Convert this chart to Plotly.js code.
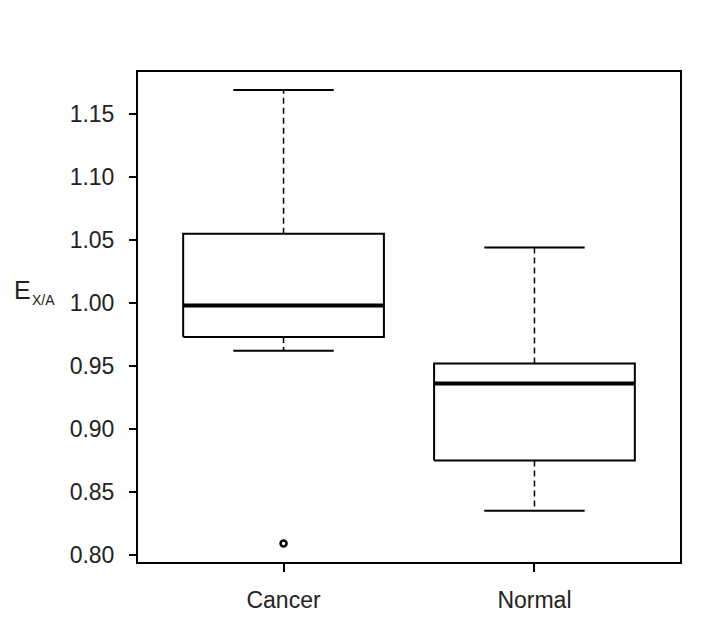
<!DOCTYPE html>
<html>
<head>
<meta charset="utf-8">
<script src="https://cdn.plot.ly/plotly-3.0.1.min.js"></script>
<style>html,body{margin:0;padding:0;background:#fff;}#chart{width:710px;height:624px;}</style>
</head>
<body>
<div id="chart"></div>
<script>
// Data
var categories = ['Cancer', 'Normal'];
var lowerWhisker = [0.962, 0.835];
var q1Values = [0.973, 0.875];
var medianValues = [0.998, 0.936];
var q3Values = [1.055, 0.952];
var upperWhisker = [1.169, 1.044];
var outlierCategory = ['Cancer'];
var outlierValues = [0.809];
var yTickVals = [0.80, 0.85, 0.90, 0.95, 1.00, 1.05, 1.10, 1.15];
var yTickText = ['0.80', '0.85', '0.90', '0.95', '1.00', '1.05', '1.10', '1.15'];

var boxHalf = 0.4, capHalf = 0.2;
var boxX = [], boxY = [], medX = [], medY = [], whiskX = [], whiskY = [], capX = [], capY = [];
categories.forEach(function (c, i) {
  var p = i + 1;
  boxX.push(p - boxHalf, p + boxHalf, p + boxHalf, p - boxHalf, p - boxHalf, null);
  boxY.push(q1Values[i], q1Values[i], q3Values[i], q3Values[i], q1Values[i], null);
  medX.push(p - boxHalf, p + boxHalf, null);
  medY.push(medianValues[i], medianValues[i], null);
  whiskX.push(p, p, null, p, p, null);
  whiskY.push(q3Values[i], upperWhisker[i], null, q1Values[i], lowerWhisker[i], null);
  capX.push(p - capHalf, p + capHalf, null, p - capHalf, p + capHalf, null);
  capY.push(upperWhisker[i], upperWhisker[i], null, lowerWhisker[i], lowerWhisker[i], null);
});
var outX = outlierCategory.map(function (c) { return categories.indexOf(c) + 1; });

var traces = [
  {x: whiskX, y: whiskY, mode: 'lines', line: {color: '#000', width: 1.5, dash: '6px,4px'}, hoverinfo: 'skip'},
  {x: capX, y: capY, mode: 'lines', line: {color: '#000', width: 2}, hoverinfo: 'skip'},
  {x: boxX, y: boxY, mode: 'lines', line: {color: '#000', width: 2}, hoverinfo: 'skip'},
  {x: medX, y: medY, mode: 'lines', line: {color: '#000', width: 4}, hoverinfo: 'skip'},
  {x: outX, y: outlierValues, mode: 'markers', marker: {symbol: 'circle-open', size: 6, color: '#000', line: {width: 2.5, color: '#000'}}, hoverinfo: 'skip'}
];

var font = {family: 'Liberation Sans, Arial, Helvetica, sans-serif', size: 23, color: '#222'};
var layout = {
  width: 710, height: 624,
  margin: {l: 138, r: 30, t: 72, b: 62},
  paper_bgcolor: '#fff', plot_bgcolor: '#fff',
  showlegend: false,
  font: font,
  xaxis: {
    range: [0.42, 2.58], tickvals: [1, 2], ticktext: categories,
    showgrid: false, zeroline: false, showline: true, mirror: true, linecolor: '#000', linewidth: 2,
    ticks: 'outside', ticklen: 8, tickwidth: 2, tickcolor: '#000', ticklabelstandoff: 8,
    tickfont: font
  },
  yaxis: {
    range: [0.7944, 1.1833], tickvals: yTickVals, ticktext: yTickText,
    showgrid: false, zeroline: false, showline: true, mirror: true, linecolor: '#000', linewidth: 2,
    ticks: 'outside', ticklen: 7, tickwidth: 2, tickcolor: '#000', ticklabelstandoff: 10,
    tickfont: font
  },
  annotations: [
    {text: 'E', xref: 'paper', yref: 'paper', x: -0.2325, y: 0.555, xanchor: 'left', yanchor: 'middle', showarrow: false, font: {family: font.family, size: 25, color: '#222'}},
    {text: 'X/A', xref: 'paper', yref: 'paper', x: -0.199, y: 0.535, xanchor: 'left', yanchor: 'middle', showarrow: false, font: {family: font.family, size: 14, color: '#222'}}
  ]
};

Plotly.newPlot('chart', traces, layout, {displayModeBar: false, staticPlot: true});
</script>
</body>
</html>
